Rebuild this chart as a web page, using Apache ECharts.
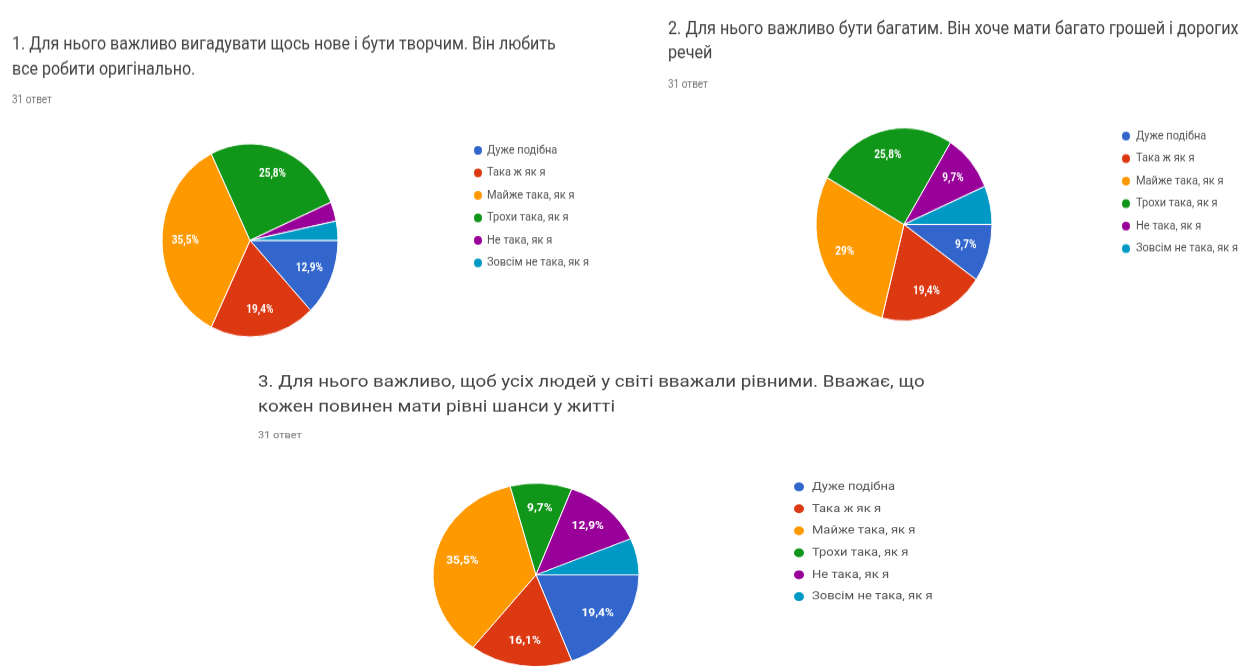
<!DOCTYPE html>
<html>
<head>
<meta charset="utf-8">
<script src="https://cdn.jsdelivr.net/npm/echarts@6/dist/echarts.min.js"></script>
<style>
html,body{margin:0;padding:0;background:#fff;overflow:hidden;width:1243px;height:666px;position:relative;}
#top{position:absolute;left:0;top:0;width:1243px;height:328px;transform:scaleY(1.0976);transform-origin:0 0;}
#bot{position:absolute;left:0;top:360px;width:1243px;height:344px;transform:scaleY(0.8895);transform-origin:0 0;}
</style>
</head>
<body>
<div id="top"></div>
<div id="bot"></div>
<script>
// ---- data ----
const categories = ['Дуже подібна','Така ж як я','Майже така, як я','Трохи така, як я','Не така, як я','Зовсім не така, як я'];
const colors = ['#3366cc','#dc3912','#ff9900','#109618','#990099','#0099c6'];
const q1Values = [4, 6, 11, 8, 1, 1];
const q2Values = [3, 6, 9, 8, 3, 2];
const q3Values = [6, 5, 11, 3, 4, 2];
const q1Title = '1. Для нього важливо вигадувати щось нове і бути творчим. Він любить\nвсе робити оригінально.';
const q2Title = '2. Для нього важливо бути багатим. Він хоче мати багато грошей і дорогих\nречей';
const q3Title = '3. Для нього важливо, щоб усіх людей у світі вважали рівними. Вважає, що\nкожен повинен мати рівні шанси у житті';
const answersText = '31 ответ';

function toData(vals){ return categories.map((n,i)=>({name:n, value:vals[i], itemStyle:{color:colors[i]}})); }
function fmt(p){
  if (p.percent < 7) return '';
  return (Math.round(p.percent*10)/10).toString().replace('.', ',') + '%';
}
function pie(vals, center, r){
  return {type:'pie', center:center, radius:r, startAngle:0, clockwise:true, silent:true,
    data:toData(vals), label:{show:false}, labelLine:{show:false},
    itemStyle:{borderColor:'#fff', borderWidth:1}};
}
function overlay(vals, center, r, fs){
  return {type:'pie', center:center, radius:[r*0.4, r], startAngle:0, clockwise:true, silent:true,
    data:categories.map((n,i)=>({name:n, value:vals[i]})),
    itemStyle:{color:'rgba(0,0,0,0)', borderWidth:0},
    label:{show:true, position:'inside', color:'#fff', fontSize:fs, fontWeight:'bold', fontFamily:'Roboto', formatter:fmt},
    labelLine:{show:false}, emphasis:{disabled:true}};
}
function legend(left, top, icon, gap, fs, pad){
  return {orient:'vertical', left:left, top:top, icon:'circle', itemWidth:icon, itemHeight:icon,
    itemGap:gap, padding:0, selectedMode:false,
    data:categories.map((n,i)=>({name:n, itemStyle:{color:colors[i]}})),
    textStyle:{fontSize:fs, color:'#555', fontFamily:'Roboto', padding:[0,0,0,pad]}};
}
const tStyle = (fs, lh)=>({fontSize:fs, lineHeight:lh, fontWeight:'normal', color:'#444', fontFamily:'Roboto'});
const sStyle = (fs)=>({fontSize:fs, lineHeight:12, fontWeight:'normal', color:'#777', fontFamily:'Roboto'});

const topChart = echarts.init(document.getElementById('top'));
topChart.setOption({
  animation:false,
  title:[
    {text:q1Title, left:12, top:30, padding:0, textStyle:tStyle(16, 22.7)},
    {text:answersText, left:12, top:85, padding:0, textStyle:sStyle(10)},
    {text:q2Title, left:668, top:16, padding:0, textStyle:tStyle(16.2, 22)},
    {text:answersText, left:668, top:71, padding:0, textStyle:sStyle(10)}
  ],
  legend:[
    legend(472, 131, 10, 8.5, 11, -1),
    legend(1120, 118, 10, 8.5, 11, 0)
  ],
  series:[
    pie(q1Values, [250, 219], 88),
    pie(q2Values, [904, 204.5], 88),
    overlay(q1Values, [250, 219], 88, 10),
    overlay(q2Values, [904, 204.5], 88, 10)
  ]
});

const botChart = echarts.init(document.getElementById('bot'));
botChart.setOption({
  animation:false,
  title:[
    {text:q3Title, left:258, top:11, padding:0, textStyle:tStyle(18.8, 28)},
    {text:answersText, left:258, top:79, padding:0, textStyle:sStyle(11)}
  ],
  legend:[
    legend(792, 135.6, 12, 10.7, 13, 2)
  ],
  series:[
    pie(q3Values, [536, 241.6], 103),
    overlay(q3Values, [536, 241.6], 103, 12)
  ]
});
</script>
</body>
</html>
